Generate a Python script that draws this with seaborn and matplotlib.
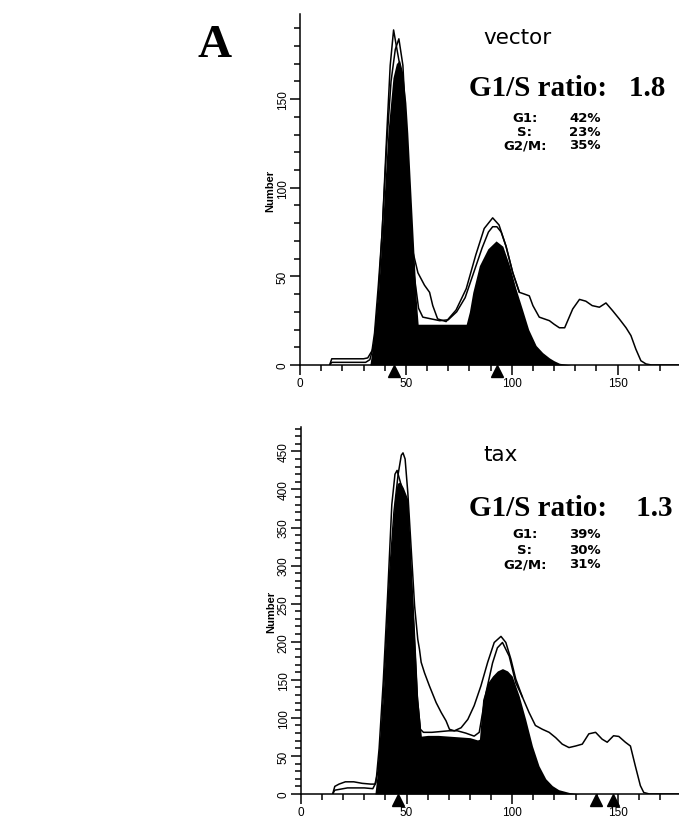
import numpy as np
import matplotlib
matplotlib.use("Agg")
import matplotlib.pyplot as plt
import seaborn as sns
from matplotlib.ticker import MultipleLocator

# ---------------------------------------------------------------------------
# data (channel, count)
# ---------------------------------------------------------------------------
# vector panel: two raw traces + fitted (filled) model
vec_a_x = [14, 15, 20, 25, 30, 32, 34, 35.2, 37, 38.8, 41, 42.6, 44.2, 45.5, 47, 48.6, 50.2,
           52, 54, 56, 58, 62, 66, 70, 74, 78, 82, 86, 89, 91, 93, 95, 97.3, 100.5, 103.6,
           106, 108.3, 110, 113, 117.8, 120, 122.5, 125, 128.8, 132, 135, 138, 141.4, 144.5,
           147.6, 150.8, 154, 156.3, 158.6, 161, 163.4, 166, 179]
vec_a_y = [0, 3.5, 3.5, 3.5, 3.5, 4, 8, 18, 45, 75, 131, 169, 189, 180, 170, 150, 120,
           80, 50, 32, 27, 26, 25, 25.5, 30, 38, 52, 66, 75, 78, 78, 75, 67, 52, 41,
           40, 39, 33.5, 27, 25, 23, 21, 21, 31.6, 37, 36, 33.5, 32.6, 35,
           30.7, 26, 21, 16.6, 9, 2.4, 0.6, 0, 0]
vec_b_x = [14, 15, 31, 33, 35, 37, 39, 41, 43, 45, 46.7, 48.6, 50.2, 51.7, 53.3, 55.7, 58.8,
           61.2, 62.7, 65, 69, 73.7, 78.5, 83, 87, 91, 94, 97.3, 100.5, 103.6]
vec_b_y = [0, 1.5, 1.5, 3, 12, 38, 80, 125, 160, 178, 184, 169, 131, 94, 64, 52, 45,
           41, 33.5, 26, 24.5, 31, 43, 62, 77, 83, 79, 67, 52, 41]
vec_fit_x = [33, 33.6, 35.2, 37, 38.8, 41.5, 43.9, 45.5, 47, 48.5, 50, 50.9, 53.3, 54.9, 55.8,
             60, 66, 72, 78.5, 80, 81.6, 84.7, 88.7, 92.6, 95.8, 99, 102, 105, 108, 111.5,
             114.6, 117.8, 120, 122.5, 128]
vec_fit_y = [0, 5, 18, 40, 75, 131, 162, 170, 172, 165, 148, 131, 75, 37, 23,
             23, 23, 23, 23, 30, 41, 56, 65.5, 70, 67, 56, 43, 31.6, 20, 11,
             7, 4, 2.4, 1, 0]
vec_marks = [44.2, 93]

# tax panel
tax_a_x = [15, 16, 18, 21, 25, 29, 33, 35, 36.5, 38, 40, 42, 44, 46, 47.5, 48.3, 49.3, 50.6,
           52.2, 53.8, 55.3, 56.1, 56.9, 58.5, 60.8, 64, 66.4, 68.7, 70.3, 72.6, 75.8, 79,
           82, 85.2, 88.4, 91.5, 94.7, 97, 99.4, 101.7, 104.9, 108, 111, 114.3, 117.5,
           120.6, 123.7, 126.9, 130, 133.2, 136.3, 139.5, 142.6, 145, 148, 150.5, 153.6,
           156, 158.3, 160.7, 162.3, 165, 179]
tax_a_y = [0, 10, 13, 16, 16, 14, 13, 13, 30, 80, 180, 290, 370, 420, 445, 448, 440, 395,
           321, 247, 203, 190, 173, 159, 142, 120, 107, 96, 85, 83, 87, 98,
           116, 142, 173, 199, 207, 199, 177, 151, 127, 107, 90, 85, 81,
           74, 65.5, 61, 63, 65.5, 79, 81, 72, 68, 76.5, 75.6, 68,
           63, 37, 11, 2, 0, 0]
tax_b_x = [15, 16, 18, 22, 30, 34, 35.5, 37, 39, 41, 43, 44.5, 45.5, 47, 49, 51, 53, 55,
           56.5, 58, 62, 66, 70, 74, 78, 82, 84.4, 87.6, 90.7, 93, 95.4, 98.6, 101.7, 104.9]
tax_b_y = [0, 5, 6, 8, 8, 7, 15, 60, 150, 260, 380, 420, 425, 410, 385, 340, 240, 130,
           85, 81, 81, 82, 83, 83, 80, 76, 81, 133, 172, 192, 199, 181, 146, 127]
tax_fit_x = [35, 36.5, 38.8, 40.4, 42, 44.3, 45.5, 47, 48.5, 50.6, 52.2, 53.8, 55.3, 57,
             60, 65, 70, 75, 80, 83.6, 84.5, 86, 88.4, 90.7, 93, 95.4, 97.8, 100, 103.3,
             106.4, 109.6, 112.7, 115.9, 119, 122, 127, 132]
tax_fit_y = [0, 37, 124, 212, 299, 387, 408, 410, 402, 387, 299, 212, 124, 76,
             77, 77, 76, 75, 74, 71, 72, 124, 146, 155, 161.6, 164.7, 161.6, 155, 129,
             98, 63, 37, 20, 11, 5.7, 2, 0]
tax_marks = [45.9, 139.5, 147.6]

stat_names = ["G1:", "S:", "G2/M:"]
vec_stats = ["42%", "23%", "35%"]
tax_stats = ["39%", "30%", "31%"]

# ---------------------------------------------------------------------------
sns.set_style("ticks")
plt.rcParams["font.family"] = ["DejaVu Sans"]
plt.rcParams.update({
    "axes.linewidth": 1.1,
    "axes.edgecolor": "black",
    "text.color": "black",
    "axes.labelcolor": "black",
    "xtick.color": "black",
    "ytick.color": "black",
})

W, H = 679, 820
fig = plt.figure(figsize=(W / 100, H / 100), dpi=100)
sans = ["Liberation Sans", "DejaVu Sans"]
serif = ["Liberation Serif", "DejaVu Serif"]


def px(x, y):
    return x / W, 1 - y / H


def panel(rect, ymax, traces, fit, marks):
    ax = fig.add_axes(rect)
    ax.fill_between(fit[0], fit[1], color="black", lw=0, zorder=2)
    for tx, ty in traces:
        sns.lineplot(x=tx, y=ty, ax=ax, color="black", lw=1.1,
                     estimator=None, sort=False, zorder=3)
    # peak position markers just under the axis
    ax.plot(marks, [-0.016] * len(marks), ls="none", marker="^", ms=9,
            color="black", transform=ax.get_xaxis_transform(), clip_on=False, zorder=5)
    ax.set_xlim(0, 179)
    ax.set_ylim(0, ymax)
    sns.despine(ax=ax)
    ax.xaxis.set_major_locator(MultipleLocator(50))
    ax.xaxis.set_minor_locator(MultipleLocator(10))
    ax.yaxis.set_major_locator(MultipleLocator(50))
    ax.yaxis.set_minor_locator(MultipleLocator(10))
    ax.tick_params(which="major", length=7, width=1.1, labelsize=8.5)
    ax.tick_params(which="minor", length=4, width=1.1)
    ax.tick_params(axis="x", which="major", pad=2)
    ax.tick_params(axis="y", which="major", pad=1, labelrotation=90)
    for lab in ax.get_xticklabels() + ax.get_yticklabels():
        lab.set_family(sans)
    for lab in ax.get_yticklabels():
        lab.set_va("center")
    ax.set_ylabel("Number", fontsize=8, fontweight="bold", family=sans, labelpad=1)
    ax.set_xlabel("")
    return ax


ax1 = panel([300 / W, (H - 366) / H, 379 / W, (366 - 15) / H], 198,
            [(vec_a_x, vec_a_y), (vec_b_x, vec_b_y)], (vec_fit_x, vec_fit_y), vec_marks)
ax2 = panel([301 / W, (H - 795) / H, 378 / W, (795 - 428) / H], 482,
            [(tax_a_x, tax_a_y), (tax_b_x, tax_b_y)], (tax_fit_x, tax_fit_y), tax_marks)

fig.text(*px(215, 46), "A", fontsize=34, fontweight="bold", family=serif,
         ha="center", va="center")

for name, ratio, stats, y_name, y_ratio, y_rows in [
        ("vector", "G1/S ratio:   1.8", vec_stats, 38, 89, [118, 132, 146]),
        ("tax", "G1/S ratio:    1.3", tax_stats, 455, 509, [535, 550, 565])]:
    fig.text(*px(483, y_name), name, fontsize=15.5, ha="left", va="center")
    fig.text(*px(469, y_ratio), ratio, fontsize=21, fontweight="bold", family=serif,
             ha="left", va="center")
    for lab, val, yy in zip(stat_names, stats, y_rows):
        fig.text(*px(525, yy), lab, fontsize=9.5, fontweight="bold", ha="center", va="center")
        fig.text(*px(569, yy), val, fontsize=9.5, fontweight="bold", ha="left", va="center")

fig.savefig("out.png", dpi=100, facecolor="white")
